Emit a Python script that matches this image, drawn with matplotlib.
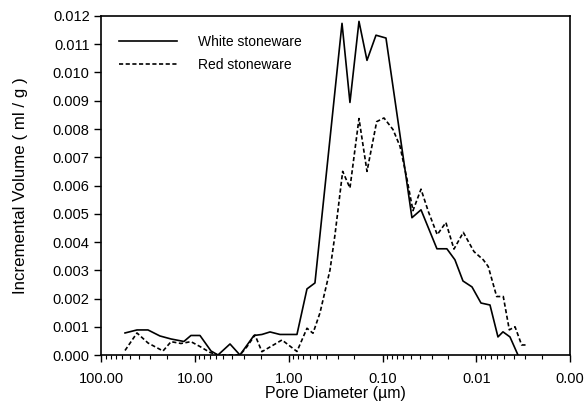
import numpy as np
import matplotlib
matplotlib.use("Agg")
from matplotlib import pyplot as plt
from matplotlib.ticker import FixedLocator, FuncFormatter, LogLocator, NullFormatter

plt.rcParams['font.family'] = ['Liberation Sans', 'DejaVu Sans']

# pore diameter (um) and incremental volume (ml/g)
white_d = [56.1, 41.8, 31.9, 23.8, 18.1, 13.2, 11.1, 8.89, 6.78, 5.71, 4.25, 3.33,
           2.36, 1.94, 1.59, 1.245, 0.820, 0.641, 0.527, 0.271, 0.223, 0.1786,
           0.1467, 0.1176, 0.0920, 0.0486, 0.0389, 0.0263, 0.0206, 0.0169,
           0.01387, 0.01111, 0.00891, 0.00714, 0.00587, 0.00519, 0.00437, 0.00359]
white_v = [0.00078, 0.000887, 0.000887, 0.000674, 0.000567, 0.000479, 0.000691,
           0.000691, 0.000142, 0.0, 0.00039, 0.0, 0.000691, 0.000727, 0.000816,
           0.000727, 0.000727, 0.00234, 0.00255, 0.01174, 0.00894, 0.01181,
           0.01043, 0.01132, 0.01122, 0.00486, 0.00514, 0.00376, 0.00376,
           0.00337, 0.00262, 0.00241, 0.00184, 0.00177, 0.00064, 0.00082,
           0.00064, 0.0]

red_d = [56.1, 41.8, 31.9, 22.05, 18.1, 14.18, 11.1, 8.89, 6.95, 5.71, 3.33, 2.80,
         2.30, 1.94, 1.59, 1.185, 0.820, 0.641, 0.553, 0.466, 0.364, 0.322,
         0.2666, 0.223, 0.1786, 0.1467, 0.1156, 0.0966, 0.0774, 0.0652, 0.0553,
         0.0474, 0.0389, 0.0325, 0.0261, 0.0211, 0.0173, 0.01376, 0.01058,
         0.00842, 0.00745, 0.00606, 0.00515, 0.00444, 0.00386, 0.00328, 0.00295]
red_v = [0.00016, 0.00078, 0.000426, 0.000142, 0.000472, 0.000408, 0.000472,
         0.0003, 0.00009, 0.0, 0.0, 0.000294, 0.000709, 0.000117, 0.000284,
         0.000532, 0.000124, 0.000947, 0.00077, 0.00149, 0.00301, 0.00426,
         0.0065, 0.00591, 0.00837, 0.0065, 0.00826, 0.00839, 0.00798, 0.00739,
         0.00628, 0.00511, 0.00587, 0.00508, 0.00426, 0.00469, 0.00375, 0.00434,
         0.00366, 0.00337, 0.00313, 0.00207, 0.00207, 0.00089, 0.001, 0.000355,
         0.000355]

x_ticks = [100, 10, 1, 0.1, 0.01, 0.001]

fig = plt.figure(figsize=(5.87, 4.03), dpi=100)
ax = fig.add_axes([0.1729, 0.1191, 0.7981, 0.8412])

ax.plot(white_d, white_v, color='black', lw=1.2, label='White stoneware')
ax.plot(red_d, red_v, color='black', lw=1.2, linestyle=(0, (2.5, 1.5)), label='Red stoneware')

ax.set_xscale('log')
ax.set_xlim(100, 0.001)
ax.set_ylim(0, 0.012)
ax.xaxis.set_major_locator(FixedLocator(x_ticks))
ax.xaxis.set_major_formatter(FuncFormatter(lambda v, p: '%.2f' % v))
ax.xaxis.set_minor_locator(LogLocator(base=10, subs=np.arange(2, 10)))
ax.xaxis.set_minor_formatter(NullFormatter())
ax.set_yticks(np.arange(0, 0.0121, 0.001))
ax.yaxis.set_major_formatter(FuncFormatter(lambda v, p: '%.3f' % v))

ax.tick_params(axis='both', which='major', direction='out', length=5, width=1, labelsize=10.5)
ax.tick_params(axis='x', which='major', pad=7)
ax.tick_params(axis='x', which='minor', direction='out', length=3, width=0.8)
for s in ax.spines.values():
    s.set_linewidth(1.2)

ax.set_xlabel('Pore Diameter (\u00b5m)', fontsize=11.5, labelpad=0)
ax.set_ylabel('Incremental Volume ( ml / g )', fontsize=12.2, labelpad=18)

ax.legend(loc='upper left', frameon=False, fontsize=10, handlelength=4.2,
          handletextpad=1.5, labelspacing=0.6, bbox_to_anchor=(0.01, 0.98))

fig.savefig('out.png', dpi=100)
